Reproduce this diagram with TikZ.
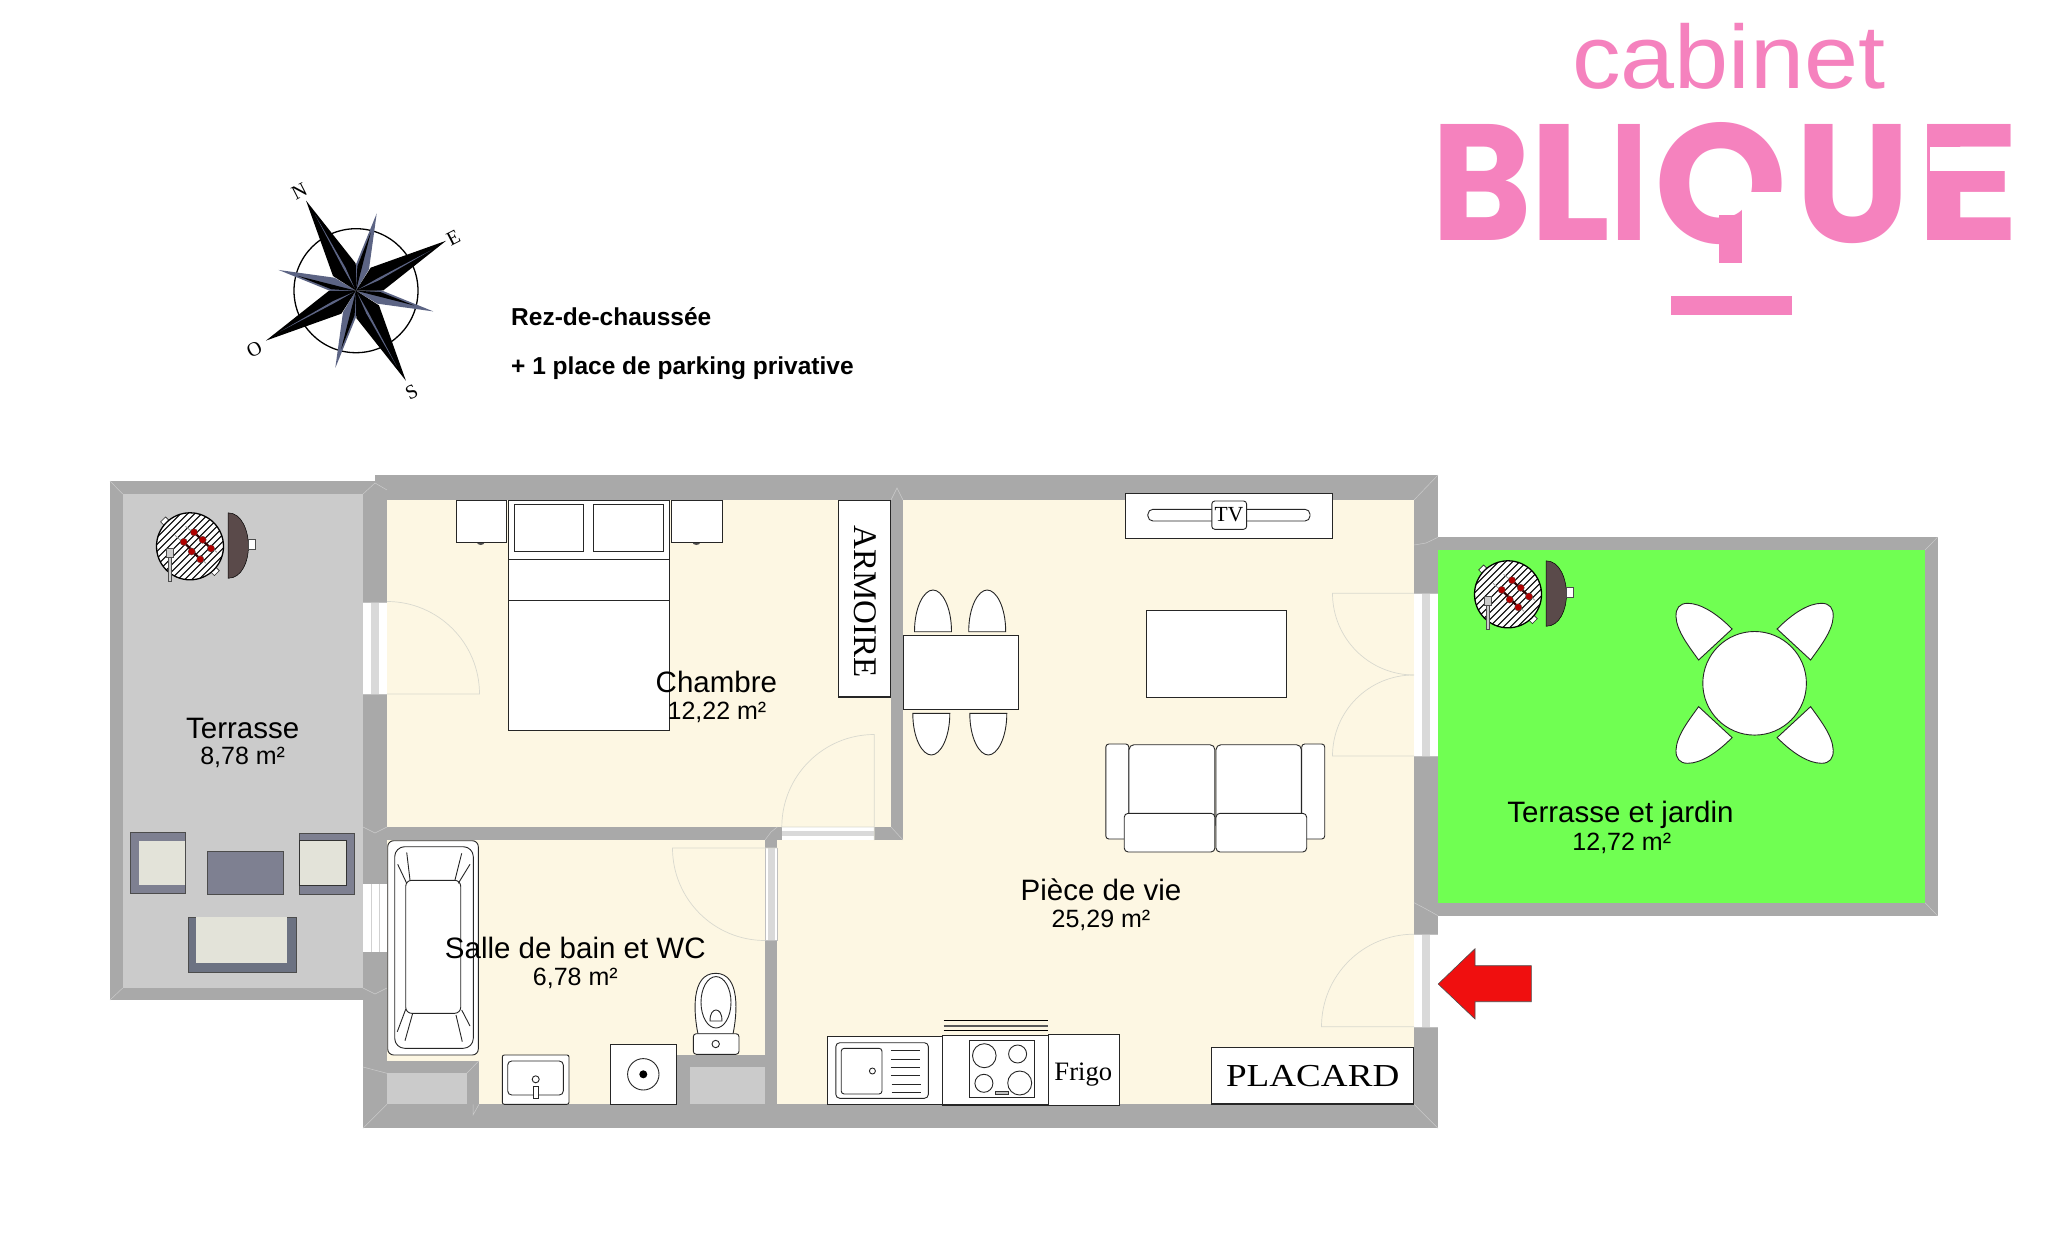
\documentclass[tikz,border=0pt]{standalone}
\usepackage{fontspec}
\usepackage{graphicx}
\setmainfont{Liberation Sans}
\newfontfamily\timesf{Liberation Serif}
\newfontfamily\logof{Poppins}
\definecolor{wallc}{HTML}{A9A9A9}
\definecolor{creamc}{HTML}{FDF7E3}
\definecolor{terrc}{HTML}{CBCBCB}
\definecolor{greenc}{HTML}{70FF52}
\definecolor{pinkc}{HTML}{F582BE}
\definecolor{slatec}{HTML}{7E8091}
\definecolor{slated}{HTML}{6C7282}
\definecolor{creamd}{HTML}{E3E3D9}
\definecolor{lidc}{HTML}{5A4A4A}
\definecolor{starb}{HTML}{5C6484}
\definecolor{doorl}{HTML}{D9D9CF}
\definecolor{redc}{HTML}{F00F0F}
\definecolor{skew}{HTML}{B00000}
\tikzset{
  wall/.style={fill=wallc,draw=none},
  mitre/.style={draw=terrc,line width=0.5pt},
  doorleaf/.style={draw=doorl,line width=0.7pt},
  furn/.style={draw=black!85,fill=white,line width=0.9pt},
  furnt/.style={draw=black!85,line width=0.9pt},
  room/.style={inner sep=0pt,anchor=base,font=\fontsize{29.5}{30}\selectfont},
  area/.style={inner sep=0pt,anchor=base,font=\fontsize{25}{26}\selectfont},
  serif/.style={inner sep=0pt,font=\timesf},
  info/.style={inner sep=0pt,anchor=base west,font=\fontsize{24.5}{26}\selectfont\bfseries},
  logol/.style={inner sep=0pt,anchor=base west,text=pinkc,font=\logof\bfseries},
  logobar/.style={fill=pinkc,draw=none},
  card/.style={inner sep=0pt,font=\timesf\fontsize{20}{20}\selectfont,rotate=27},
}
% opening in a wall: white with a grey middle strip
\newcommand\vopening[3]{% x-left, y-top, y-bottom
  \fill[white] (#1,#2) rectangle ({#1+24},#3);
  \fill[black!15] ({#1+8},#2) rectangle ({#1+16},#3);
  \draw[draw=black!25,line width=0.4pt] (#1,#2) -- ({#1+24},#2) (#1,#3) -- ({#1+24},#3);
}
\newcommand\bbqgrill[2]{%
\begin{scope}[shift={(#1,#2)}]
  \draw[furn,line width=0.6pt,rotate=45] (-3.5,-38) rectangle (3.5,-32);
  \draw[furn,line width=0.6pt,rotate=-135] (-3.5,-38) rectangle (3.5,-32);
  \fill[white] (0,0) circle (33.5);
  \begin{scope}
    \clip (0,0) circle (33.5);
    \foreach \i in {-63,-56,...,63}
      \draw[black,line width=1.1pt] ({\i-40},40) -- ({\i+40},-40);
  \end{scope}
  \draw[black,line width=1.3pt] (0,0) circle (33.5);
  \draw[black!40,line width=0.8pt] (-4.5,-20) -- (27,6);
  \draw[black!40,line width=0.8pt] (-15,-11) -- (16,17);
  \draw[black!75!skew,line width=2.2pt] (4,-14) -- (21,2.2);
  \draw[black!75!skew,line width=2.2pt] (-6.3,-4.4) -- (10.3,13);
  \foreach \a/\b in {4/-14,12.7/-6.5,21/2.2,-6.3/-4.4,1.7/5.2,10.3/13}
    \fill[skew,draw=black!70,line width=0.3pt] (\a,\b) circle (3.6);
  \draw[fill=black!20,draw=black!70,line width=0.5pt] (-21.3,2) rectangle (-18.3,35);
  \draw[fill=black!20,draw=black!70,line width=0.5pt] (-24,1.5) rectangle (-16.7,11);
  \fill[lidc,draw=black,line width=0.5pt] (38,-33.5) .. controls (52,-33.5) and (58.5,-15) .. (58.5,0) .. controls (58.5,15) and (52,32) .. (38,32) -- cycle;
  \draw[fill=white,draw=black!70,line width=0.6pt] (58.5,-7) rectangle (65.5,2.5);
\end{scope}}
\newcommand\diningchair[3]{%
\begin{scope}[shift={(#1,#2)},yscale=#3]
  \draw[furn] (-18.5,0) .. controls (-18.5,-25) and (-9,-41.7) .. (0,-41.7) .. controls (9,-41.7) and (18.5,-25) .. (18.5,0) -- cycle;
\end{scope}}
\newcommand\roundchair[2]{%
\begin{scope}[shift={(1754.6,683.3)},xscale=#1,yscale=#2]
  \draw[furn] (-22.5,-54.3) .. controls (-38,-70) and (-54,-80) .. (-67,-80) .. controls (-75,-80) and (-79,-75) .. (-78.6,-66.7) .. controls (-78,-52) and (-65,-36) .. (-56,-23.3) -- cycle;
\end{scope}}
\begin{document}
\begin{tikzpicture}[x=1pt,y=-1pt]
\useasboundingbox (0,0) rectangle (2048,1233);
\fill[white] (0,0) rectangle (2048,1233);

% ---------- logo ----------
\node[inner sep=0pt,anchor=base,text=pinkc] (logoCabinet) at (1729,89) {\fontsize{90}{90}\selectfont\scalebox{1.08}[1]{cabinet}};
\node[logol] (logoB) at (1431,241) {\resizebox{100.6pt}{116pt}{B}};
\node[logol] (logoL) at (1529,241) {\resizebox{81pt}{116pt}{L}};
\node[logol] (logoI) at (1610,241) {\resizebox{37.8pt}{116pt}{I}};
\node[logol] (logoQ) at (1654,244) {\resizebox{133.4pt}{121pt}{Q}};
\fill[white] (1742.4,192.3) -- (1805,192.3) -- (1805,280) -- (1742.4,280) -- cycle;
\fill[logobar] (1719.2,215) rectangle (1742.4,263.3);
\fill[logobar] (1671,295.7) rectangle (1791.7,315);
\node[logol] (logoU) at (1795,243) {\resizebox{115pt}{118pt}{U}};
\node[logol] (logoE) at (1915.4,241) {\resizebox{105pt}{116pt}{E}};
\fill[white] (1930,146.7) rectangle (2040,171.3);

% ---------- compass ----------
\begin{scope}[shift={(356,290.7)}]
  \draw[black,line width=1.3pt] (0,0) circle (62);
  \foreach \r in {-15,-105,165,75}{
    \fill[starb,rotate=\r] (0,-80) -- (-7,-24) -- (0,0) -- (7,-24) -- cycle;
    \fill[black,rotate=\r] (0,0) -- (-5,-24) -- (-0.8,-60) -- cycle;
  }
  \foreach \r in {29,-61,-151,119}{
    \fill[black,rotate=\r] (0,-103) -- (-13,-24) -- (0,0) -- (13,-24) -- cycle;
    \fill[starb,rotate=\r] (0,-3) -- (2,-25) -- (1,-86) -- (-0.3,-25) -- cycle;
  }
\end{scope}
\node[card] (cardN) at (299.3,191) {N};
\node[card] (cardE) at (453.3,237.7) {E};
\node[card] (cardS) at (411.7,392.3) {S};
\node[card] (cardO) at (254.3,349) {O};

\node[info] (infoA) at (511,326) {Rez-de-chaussée};
\node[info] (infoB) at (511,374.3) {+ 1 place de parking privative};

% ---------- floors ----------
\fill[terrc] (122.7,494) rectangle (363,988);
\fill[creamc] (387,500) rectangle (1414,1104.3);
\fill[greenc] (1438,550) rectangle (1925,902.7);

% ---------- walls ----------
\path[wall] (110,481) rectangle (375,494);
\path[wall] (110,481) rectangle (122.7,1000);
\path[wall] (110,988) rectangle (375,1000);
\path[wall] (375,475) rectangle (1438,500);
\path[wall] (363,490) rectangle (387,1128.3);
\path[wall] (1414,475) rectangle (1438,1128.3);
\path[wall] (363,1104.3) rectangle (1438,1128.3);
\path[wall] (387,827) rectangle (903,840);
\path[wall] (891,500) rectangle (903,840);
\path[wall] (765,840) rectangle (777.3,1104.3);
\path[wall] (1438,537.3) rectangle (1937.5,550);
\path[wall] (1925,537.3) rectangle (1937.5,915.7);
\path[wall] (1438,902.7) rectangle (1937.5,915.7);
\path[wall] (387,1060.7) rectangle (479,1104.3);
\fill[terrc] (387,1073.3) rectangle (466.7,1104.3);
\path[wall] (677.3,1055) rectangle (765,1104.3);
\fill[terrc] (690,1067.3) rectangle (765,1104.3);

% mitres
\draw[mitre] (110,481) -- (122.7,494) (110,1000) -- (122.7,988)
  (363,494) -- (375,483) -- (387,490) (363,988) -- (375,994) -- (387,988)
  (363,827) -- (375,833) -- (387,827)
  (1414,500) -- (1438,475) (1414,1104.3) -- (1438,1128.3)
  (1925,550) -- (1937.5,537.3) (1925,902.7) -- (1937.5,915.7)
  (1414,545) -- (1426,543) -- (1438,537.3) (1414,902.7) -- (1426,909) -- (1438,915.7)
  (891,500) -- (897,488) -- (903,500) (891,827) -- (903,840)
  (765,840) -- (771,832) -- (777.3,827)
  (363,1128.3) -- (387,1104.3) (473,1104.3) -- (473,1115) -- (479,1104.3)
  (363,1067) -- (387,1073.3) (479,1060.7) -- (466.7,1073.3);

% ---------- openings ----------
\vopening{363}{602}{694}
\begin{scope}[shift={(0,0)}]
  \fill[white] (363,884) rectangle (387,952);
  \draw[black!18,line width=0.8pt] (371,884) -- (371,952) (379,884) -- (379,952);
\end{scope}
\vopening{1414}{593.3}{756}
\vopening{1414}{934}{1026.7}
\fill[white] (781.8,827) rectangle (874.3,840);
\fill[black!15] (781.8,830.5) rectangle (874.3,836);
\fill[white] (765,848) rectangle (777.3,940.5);
\fill[black!15] (768,848) rectangle (775,940.5);
\draw[black!25,line width=0.4pt] (765,940.5) -- (777.3,940.5) (777.3,848) -- (777.3,940.5) (765,848) -- (765,940.5);

% ---------- doors ----------
\draw[doorleaf] (387,601.5) arc (-90:0:92.5) -- (387,694);
\draw[doorleaf] (874.3,840) -- (874.3,734.5) arc (-90:-180:92.5) -- (874.3,827);
\draw[doorleaf] (777.3,848) -- (672.5,848) arc (180:90:92.5);
\draw[doorleaf] (1414,593.3) -- (1332.5,593.3) arc (180:90:81.7);
\draw[doorleaf] (1414,756) -- (1332.5,756) arc (180:270:81);
\draw[doorleaf] (1414,1026.7) -- (1321.5,1026.7) arc (180:270:92.5);

% ---------- west terrace furniture ----------
\bbqgrill{190}{546.3}
\draw[fill=slatec,draw=black!70,line width=0.5pt] (130.3,832) rectangle (185,893.5);
\fill[creamd] (138.7,840.5) rectangle (185,885.2);
\draw[fill=slatec,draw=black!70,line width=0.5pt] (207,851.5) rectangle (283.3,894.5);
\draw[fill=slatec,draw=black!70,line width=0.5pt] (299.3,832.8) rectangle (354,893.8);
\draw[fill=creamd,draw=black!80,line width=0.5pt] (299.3,840.5) rectangle (346,885.2);
\draw[fill=slated,draw=black!70,line width=0.5pt] (188,917.4) rectangle (296.7,972);
\fill[creamd] (196,917.4) rectangle (287.3,963);

% ---------- chambre ----------
\draw[furn] (508.6,500) rectangle (669.6,730);
\draw[furnt] (508.6,559) -- (669.6,559) (508.6,600) -- (669.6,600);
\draw[furn] (514,504) rectangle (583.6,551);
\draw[furn] (593,504) rectangle (663,551);
\fill[black!70] (480.7,542) ellipse (4 and 3);
\fill[black!70] (696.4,542) ellipse (4 and 3);
\draw[furn] (456.4,500) rectangle (506.8,542);
\draw[furn] (671.8,500) rectangle (722.5,542);
\draw[furn,line width=1.3pt] (838.6,500.7) rectangle (890.4,697);
\node[serif,rotate=-90,font=\timesf\fontsize{33}{33}\selectfont] (armoire) at (865,601.7) {ARMOIRE};

% ---------- salle de bain ----------
\draw[furn,rounded corners=6pt] (387.7,840.7) rectangle (478.3,1055);
\draw[furn,rounded corners=10pt] (394.7,846.7) rectangle (473.3,1048.3);
\draw[furn,rounded corners=6pt] (405.7,880.3) rectangle (460.7,1013.3);
\draw[furnt] (406.7,852.3) -- (410,880) (397.7,864.3) -- (406.7,883.3)
  (461.7,853.3) -- (455,880) (470,864.3) -- (458.3,883.3)
  (412.7,1013.3) -- (405,1040.7) (405.7,1009.3) -- (397.3,1031.7)
  (456,1015) -- (462.3,1041.7) (461.7,1010) -- (470,1026);
\draw[furn,rounded corners=2pt] (502.3,1055) rectangle (569,1104.3);
\draw[furnt,rounded corners=4pt] (507.7,1061) rectangle (563.3,1095);
\draw[furn] (535.7,1079.3) circle (3.5);
\draw[furn] (533.3,1086) rectangle (538,1098.7);
\draw[furn] (610,1044.3) rectangle (676.7,1104.3);
\draw[furnt] (643.3,1074.3) circle (15.7);
\fill[black] (643.3,1074.3) circle (4);
\draw[furn] (698,1034) .. controls (694,1015) and (690,973.3) .. (715.7,973.3) .. controls (741,973.3) and (737,1015) .. (733,1034) -- cycle;
\draw[furnt] (716,1002.3) ellipse (15 and 25.7);
\draw[furnt] (710,1021) .. controls (710,1013) and (713,1010) .. (716,1010) .. controls (719,1010) and (722,1013) .. (722,1021) -- cycle;
\draw[furn,rounded corners=3pt] (693.3,1033.7) rectangle (739,1054.3);
\draw[furnt] (715.7,1044) circle (3.7);

% ---------- pièce de vie ----------
\draw[furn] (1125.7,493.3) rectangle (1332.7,538.3);
\draw[furn,rounded corners=5pt] (1147.9,509.3) rectangle (1310,521);
\draw[furn,rounded corners=3pt] (1211.8,501) rectangle (1246.6,529.3);
\node[serif,font=\timesf\fontsize{21.5}{22}\selectfont] (tv) at (1229,515) {TV};
\draw[furn] (903.7,635.7) rectangle (1018.5,709);
\diningchair{933}{631.7}{1}
\diningchair{987.2}{631.7}{1}
\diningchair{931.3}{713.3}{-1}
\diningchair{988.3}{713.3}{-1}
\draw[furn] (1146.4,610) rectangle (1286.8,697.7);
\draw[furn,rounded corners=3pt] (1105.8,744) rectangle (1128.8,839);
\draw[furn,rounded corners=3pt] (1301.7,744) rectangle (1324.7,839);
\draw[furn,rounded corners=5pt] (1129,744.7) rectangle (1214.9,830);
\draw[furn,rounded corners=5pt] (1216,744.7) rectangle (1301.4,830);
\draw[furn,rounded corners=4pt] (1124.2,813.3) rectangle (1214.9,852);
\draw[furn,rounded corners=4pt] (1216,813.3) rectangle (1306.7,852);

% ---------- cuisine ----------
\draw[furn] (827.4,1036) rectangle (942.3,1104.3);
\draw[furnt,rounded corners=4pt] (835.8,1042.7) rectangle (928.4,1098.3);
\draw[furnt,rounded corners=3pt] (841.2,1048.3) rectangle (882,1094);
\draw[furnt] (872.4,1071) circle (3);
\draw[furnt] (890.9,1050) -- (920,1050) (890.9,1059) -- (920,1059) (890.9,1067.3) -- (920,1067.3)
  (890.9,1075.3) -- (920,1075.3) (891.5,1084) -- (920.5,1084) (891.5,1092) -- (920.5,1092);
\draw[black,line width=0.9pt] (943.5,1020.7) -- (1047.5,1020.7) (943.5,1030.7) -- (1047.5,1030.7);
\draw[black!65,line width=1.6pt] (943.5,1025.7) -- (1047.5,1025.7);
\draw[furn,line width=1.2pt] (942.3,1035.3) rectangle (1048.7,1105);
\draw[furnt] (969.2,1040.3) rectangle (1034,1097);
\draw[furnt] (984.3,1055.7) ellipse (11.8 and 12);
\draw[furnt] (1017.6,1054) ellipse (9 and 9);
\draw[furnt] (983.9,1083.3) ellipse (9 and 9);
\draw[furnt] (1019.7,1083) ellipse (12 and 12);
\draw[fill=black!25,draw=black!80,line width=0.6pt] (995.7,1091.7) rectangle (1008.3,1094.7);
\draw[furn,line width=0.7pt] (1048.7,1034.3) rectangle (1119,1105);
\node[serif,anchor=base,font=\timesf\fontsize{26.6}{27}\selectfont] (frigo) at (1083.3,1080.7) {Frigo};
\draw[furn,line width=1.4pt] (1211.2,1047.3) rectangle (1413.6,1104);
\node[serif,anchor=base,xscale=1.16,font=\timesf\fontsize{32}{32}\selectfont] (placard) at (1312.7,1086) {PLACARD};

% ---------- jardin ----------
\bbqgrill{1508}{594.3}
\draw[furn] (1754.6,683.3) circle (51.8);
\roundchair{1}{1}
\roundchair{-1}{1}
\roundchair{1}{-1}
\roundchair{-1}{-1}

% ---------- entry arrow ----------
\draw[fill=redc,draw=black!70,line width=0.6pt] (1438.2,984) -- (1475,948.7) -- (1475,965.7) -- (1531.4,965.7) -- (1531.4,1001.7) -- (1475,1001.7) -- (1475,1019) -- cycle;

% ---------- labels ----------
\node[room] (lblTerrasse) at (242.7,738) {Terrasse};
\node[area] (areaTerrasse) at (242.7,764.5) {8,78 m²};
\node[room] (lblChambre) at (716.4,692.7) {Chambre};
\node[area] (areaChambre) at (717,719.3) {12,22 m²};
\node[room] (lblSalle) at (575.3,958.3) {Salle de bain et WC};
\node[area] (areaSalle) at (575.3,985) {6,78 m²};
\node[room] (lblVie) at (1101,900) {Pièce de vie};
\node[area] (areaVie) at (1101,927.3) {25,29 m²};
\node[room] (lblJardin) at (1620.5,822.7) {Terrasse et jardin};
\node[area] (areaJardin) at (1621.8,850) {12,72 m²};
\end{tikzpicture}
\end{document}
